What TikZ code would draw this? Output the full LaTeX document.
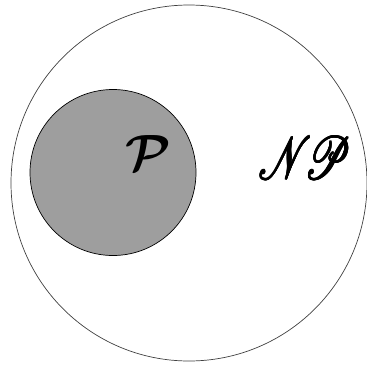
\documentclass[tikz,border=0pt]{standalone}
\usepackage{amsmath,amssymb,bm}
\usepackage{mathrsfs}
\usepackage{graphicx}
\newcommand{\heavy}[2]{\tikz[baseline]{\foreach \dx in {-#1,0,#1}{\foreach \dy in {-#1,0,#1}{\node[inner sep=0pt,anchor=base] at (\dx pt,\dy pt) {#2};}}}}
\begin{document}
\begin{tikzpicture}[x=1pt,y=-1pt,
  setline/.style={draw=black!75, line width=0.7pt}]
\useasboundingbox (0,0) rectangle (367,365);
\node[circle, setline, minimum size=356pt, inner sep=0pt] (np) at (189,183) {};
\node[circle, setline, draw=black, fill=black!38, minimum size=166pt, inner sep=0pt] (p) at (113,172.5) {};
\node (plabel) at (148,153) {\scalebox{5.1}{$\bm{\mathcal{P}}$}};
\node (nplabel) at (305,158) {\heavy{0.6}{\scalebox{4.2}[6.0]{$\mathscr{N}\mkern-3mu\mathscr{P}$}}};
\end{tikzpicture}
\end{document}
